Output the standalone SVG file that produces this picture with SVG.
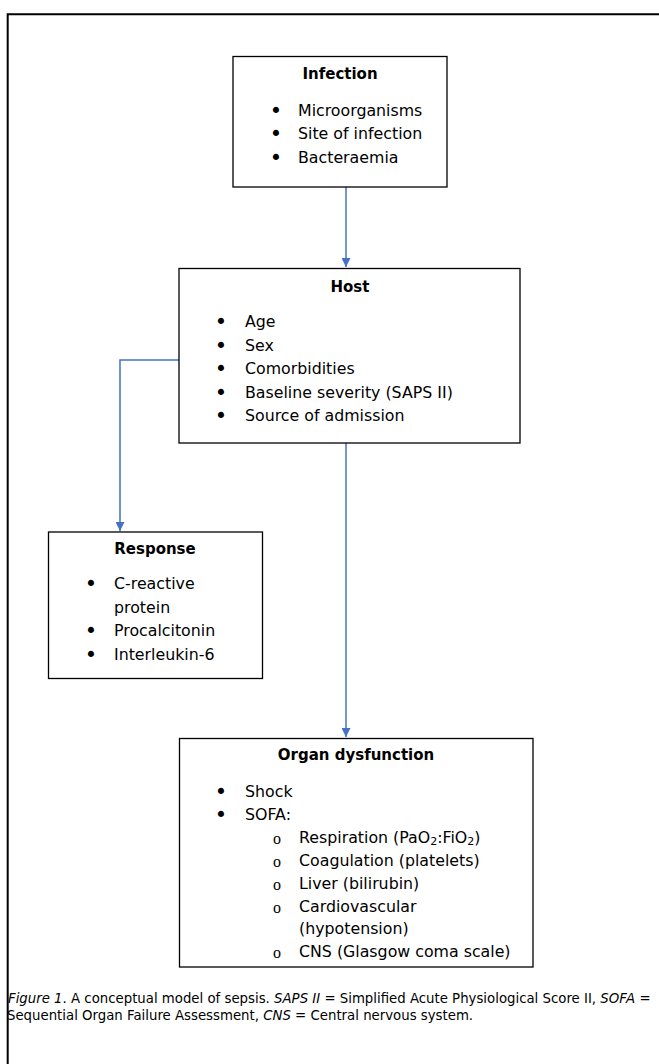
<svg xmlns="http://www.w3.org/2000/svg" width="659" height="1064" viewBox="0 0 659 1064">
<style>
.box{fill:#fff;stroke:#000;stroke-width:1.3}
.t{font-family:"DejaVu Sans",sans-serif;font-size:15.8px;fill:#000}
.h{font-family:"DejaVu Sans",sans-serif;font-size:15px;font-weight:bold;fill:#000;text-anchor:middle}
.b{font-family:"DejaVu Sans",sans-serif;font-size:21px;fill:#000;text-anchor:middle}
.o{font-family:"Liberation Serif",serif;font-size:16px;fill:#000;text-anchor:middle}
.c{font-family:"DejaVu Sans",sans-serif;font-size:13.3px;fill:#000}
.i{font-style:italic}
.conn{fill:none;stroke:#4472C4;stroke-width:1.5}
</style>
<defs>
<marker id="ah" markerWidth="9" markerHeight="9" refX="9" refY="4.5" orient="auto" markerUnits="userSpaceOnUse" viewBox="0 0 9 9">
<path d="M0,0 L9,4.5 L0,9 z" fill="#4472C4"/>
</marker>
</defs>
<rect width="659" height="1064" fill="#fff"/>
<g id="frame">
<path d="M7.7,1064 V14.3 H659" fill="none" stroke="#000" stroke-width="2"/>
</g>
<g id="connectors">
<path class="conn" d="M346,187 V267" marker-end="url(#ah)"/>
<path class="conn" d="M179,360 H120 V531" marker-end="url(#ah)"/>
<path class="conn" d="M346,443 V737" marker-end="url(#ah)"/>
</g>
<g id="infection">
<rect class="box" x="233" y="56.5" width="214" height="130.5"/>
<text class="h" x="340" y="79">Infection</text>
<text class="b" x="276" y="118">•</text>
<text class="b" x="276" y="141">•</text>
<text class="b" x="276" y="164.5">•</text>
<text class="t" x="298" y="116">Microorganisms</text>
<text class="t" x="298" y="139">Site of infection</text>
<text class="t" x="298" y="162.5">Bacteraemia</text>
</g>
<g id="host">
<rect class="box" x="179" y="268.5" width="341" height="174.5"/>
<text class="h" x="350" y="292">Host</text>
<text class="b" x="221" y="329">•</text>
<text class="b" x="221" y="352.5">•</text>
<text class="b" x="221" y="376">•</text>
<text class="b" x="221" y="399.5">•</text>
<text class="b" x="221" y="423">•</text>
<text class="t" x="245" y="327">Age</text>
<text class="t" x="245" y="350.5">Sex</text>
<text class="t" x="245" y="374">Comorbidities</text>
<text class="t" x="245" y="397.5">Baseline severity (SAPS II)</text>
<text class="t" x="245" y="421">Source of admission</text>
</g>
<g id="response">
<rect class="box" x="48.5" y="532" width="214" height="146.5"/>
<text class="h" x="155" y="554">Response</text>
<text class="b" x="91" y="591">•</text>
<text class="b" x="91" y="638">•</text>
<text class="b" x="91" y="661.5">•</text>
<text class="t" x="114" y="589">C-reactive</text>
<text class="t" x="114" y="612.5">protein</text>
<text class="t" x="114" y="636">Procalcitonin</text>
<text class="t" x="114" y="659.5">Interleukin-6</text>
</g>
<g id="organ">
<rect class="box" x="179.5" y="738.5" width="353.5" height="228.5"/>
<text class="h" x="356" y="760">Organ dysfunction</text>
<text class="b" x="221" y="799">•</text>
<text class="b" x="221" y="822">•</text>
<text class="t" x="245" y="797">Shock</text>
<text class="t" x="245" y="820">SOFA:</text>
<text class="o" x="277" y="844">o</text>
<text class="o" x="277" y="867">o</text>
<text class="o" x="277" y="890">o</text>
<text class="o" x="277" y="912.5">o</text>
<text class="o" x="277" y="958">o</text>
<text class="t" x="299" y="843">Respiration (PaO<tspan font-size="11" dy="2">2</tspan><tspan dy="-2">:FiO</tspan><tspan font-size="11" dy="2">2</tspan><tspan dy="-2">)</tspan></text>
<text class="t" x="299" y="866">Coagulation (platelets)</text>
<text class="t" x="299" y="889">Liver (bilirubin)</text>
<text class="t" x="299" y="911.5">Cardiovascular</text>
<text class="t" x="299" y="934">(hypotension)</text>
<text class="t" x="299" y="957">CNS (Glasgow coma scale)</text>
</g>
<g id="caption">
<text class="c" x="8" y="1003"><tspan class="i">Figure 1</tspan>. A conceptual model of sepsis. <tspan class="i">SAPS II</tspan> = Simplified Acute Physiological Score II, <tspan class="i">SOFA</tspan> =</text>
<text class="c" x="7" y="1020">Sequential Organ Failure Assessment, <tspan class="i">CNS</tspan> = Central nervous system.</text>
</g>
</svg>
